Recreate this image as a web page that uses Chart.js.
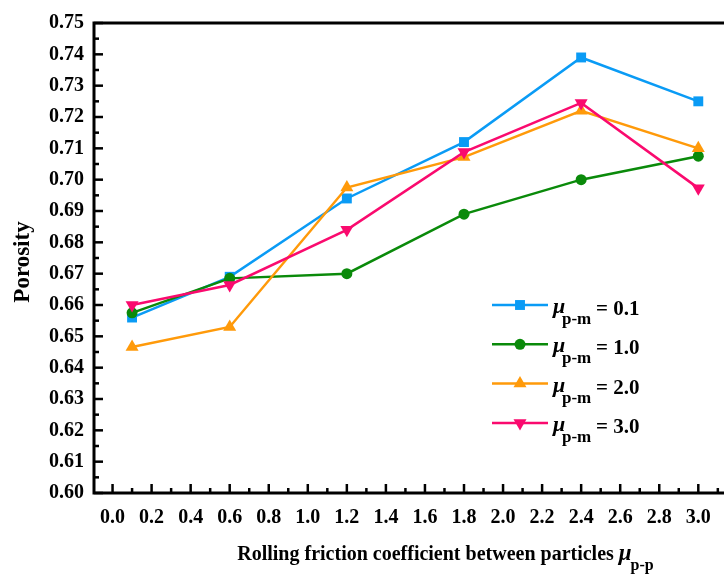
<!DOCTYPE html>
<html>
<head>
<meta charset="utf-8">
<script src="https://cdn.jsdelivr.net/npm/chart.js@4.4.1/dist/chart.umd.min.js"></script>
<style>
  html, body { margin: 0; padding: 0; background: #ffffff; }
  canvas { display: block; }
</style>
</head>
<body>
<canvas id="chart" width="724" height="577"></canvas>
<script>
// Rolling friction coefficient between particles (mu p-p)
const frictionPP = [0.1, 0.6, 1.2, 1.8, 2.4, 3.0];

// Porosity for each particle-wall friction coefficient (mu p-m)
const porosityPM01 = [0.656, 0.669, 0.694, 0.712, 0.739, 0.725];
const porosityPM10 = [0.6575, 0.6685, 0.670, 0.689, 0.700, 0.7075];
const porosityPM20 = [0.6466, 0.653, 0.6975, 0.7072, 0.722, 0.710];
const porosityPM30 = [0.660, 0.6664, 0.684, 0.7088, 0.7245, 0.6973];

// mu p-m values shown in the legend
const pmValues = ['0.1', '1.0', '2.0', '3.0'];

// Axis tick labels
const xTickLabels = ['0.0', '0.2', '0.4', '0.6', '0.8', '1.0', '1.2', '1.4', '1.6',
                     '1.8', '2.0', '2.2', '2.4', '2.6', '2.8', '3.0'];
const yTickLabels = ['0.60', '0.61', '0.62', '0.63', '0.64', '0.65', '0.66', '0.67',
                     '0.68', '0.69', '0.70', '0.71', '0.72', '0.73', '0.74', '0.75'];

const SERIF = '"Liberation Serif", "Times New Roman", serif';

function pairs(values) {
  return frictionPP.map((x, i) => ({ x: x, y: values[i] }));
}

function series(values, color, style, radius, rotation, order) {
  return {
    data: pairs(values),
    borderColor: color,
    backgroundColor: color,
    pointBackgroundColor: color,
    pointBorderColor: color,
    pointBorderWidth: 0,
    borderWidth: 2.5,
    pointStyle: style,
    pointRadius: radius,
    pointHoverRadius: radius,
    pointRotation: rotation,
    tension: 0,
    order: order
  };
}

// Frame, inward major/minor ticks, axis titles and legend
const decorPlugin = {
  id: 'decor',
  afterDatasetsDraw(chart) {
    const ctx = chart.ctx;
    const area = chart.chartArea;
    const xs = chart.scales.x;
    const ys = chart.scales.y;
    const W = chart.width;
    ctx.save();
    ctx.strokeStyle = '#000';
    ctx.lineCap = 'butt';

    // ticks on the x axis (major at labels, minor halfway)
    ctx.lineWidth = 2.5;
    xTickLabels.forEach((lab) => {
      const v = parseFloat(lab);
      const px = xs.getPixelForValue(v);
      ctx.beginPath();
      ctx.moveTo(px, area.bottom);
      ctx.lineTo(px, area.bottom - 9);
      ctx.stroke();
      const mx = xs.getPixelForValue(v + 0.1);
      ctx.beginPath();
      ctx.moveTo(mx, area.bottom);
      ctx.lineTo(mx, area.bottom - 5);
      ctx.stroke();
    });
    // ticks on the y axis
    yTickLabels.forEach((lab, i) => {
      const v = parseFloat(lab);
      const py = ys.getPixelForValue(v);
      ctx.beginPath();
      ctx.moveTo(area.left, py);
      ctx.lineTo(area.left + 9, py);
      ctx.stroke();
      if (i < yTickLabels.length - 1) {
        const my = ys.getPixelForValue(v + 0.005);
        ctx.beginPath();
        ctx.moveTo(area.left, my);
        ctx.lineTo(area.left + 5, my);
        ctx.stroke();
      }
    });

    // frame: left, bottom and top
    ctx.lineWidth = 3;
    ctx.beginPath();
    ctx.moveTo(W, area.top);
    ctx.lineTo(area.left, area.top);
    ctx.lineTo(area.left, area.bottom);
    ctx.lineTo(W, area.bottom);
    ctx.stroke();

    ctx.fillStyle = '#000';
    // y axis title
    ctx.save();
    ctx.translate(23, 262);
    ctx.rotate(-Math.PI / 2);
    ctx.font = 'bold 23px ' + SERIF;
    ctx.textAlign = 'center';
    ctx.textBaseline = 'middle';
    ctx.fillText('Porosity', 0, 0);
    ctx.restore();

    // x axis title with italic mu and subscript
    const main = 'Rolling friction coefficient between particles ';
    const fMain = 'bold 20px ' + SERIF;
    const fMu = 'italic bold 23px ' + SERIF;
    const fSub = 'bold 16px ' + SERIF;
    ctx.textAlign = 'left';
    ctx.textBaseline = 'alphabetic';
    ctx.font = fMain; const w1 = ctx.measureText(main).width;
    ctx.font = fMu; const w2 = ctx.measureText('\u03bc').width;
    ctx.font = fSub; const w3 = ctx.measureText('p-p').width;
    let tx = 446 - (w1 + w2 + w3) / 2;
    const base = 560;
    ctx.font = fMain; ctx.fillText(main, tx, base); tx += w1;
    ctx.font = fMu; ctx.fillText('\u03bc', tx, base); tx += w2 - 1;
    ctx.font = fSub; ctx.fillText('p-p', tx, base + 10);

    // legend
    const dsList = chart.data.datasets;
    dsList.forEach((ds, i) => {
      const ly = 305 + i * 39.3;
      ctx.strokeStyle = ds.borderColor;
      ctx.lineWidth = 2.5;
      ctx.beginPath();
      ctx.moveTo(492, ly);
      ctx.lineTo(548, ly);
      ctx.stroke();
      ctx.fillStyle = ds.backgroundColor;
      Chart.helpers.drawPoint(ctx, {
        pointStyle: ds.pointStyle,
        rotation: ds.pointRotation,
        radius: ds.pointRadius,
        borderWidth: 0
      }, 520, ly);
      ctx.fillStyle = '#000';
      ctx.font = 'italic bold 22px ' + SERIF;
      ctx.fillText('\u03bc', 553, ly + 8);
      ctx.font = 'bold 17px ' + SERIF;
      ctx.fillText('p-m', 562, ly + 19);
      ctx.font = 'bold 21px ' + SERIF;
      ctx.fillText('= ' + pmValues[i], 596, ly + 10);
    });
    ctx.restore();
  }
};

const chart = new Chart(document.getElementById('chart'), {
  type: 'line',
  data: {
    datasets: [
      series(porosityPM01, '#0A9BF5', 'rect', 7, 0, 4),
      series(porosityPM10, '#0A8A0A', 'circle', 5.5, 0, 3),
      series(porosityPM20, '#FF9A0A', 'triangle', 7.5, 0, 2),
      series(porosityPM30, '#FA0A6E', 'triangle', 7.5, 180, 1)
    ]
  },
  options: {
    responsive: false,
    animation: false,
    events: [],
    layout: { padding: { top: 23, right: 0, left: 0, bottom: 0 } },
    plugins: { legend: { display: false }, tooltip: { enabled: false } },
    scales: {
      x: {
        type: 'linear',
        min: -0.095,
        max: 3.085,
        grid: { display: false, drawTicks: false },
        border: { display: false },
        afterFit(scale) { scale.height = 84; },
        afterBuildTicks(scale) {
          scale.ticks = xTickLabels.map(l => ({ value: parseFloat(l) }));
        },
        ticks: {
          padding: 13,
          color: '#000',
          maxRotation: 0,
          autoSkip: false,
          font: { family: SERIF, size: 20, weight: 'bold' },
          callback: (v) => xTickLabels.find(l => parseFloat(l) === v) ?? ''
        }
      },
      y: {
        type: 'linear',
        min: 0.60,
        max: 0.75,
        grid: { display: false, drawTicks: false },
        border: { display: false },
        afterFit(scale) { scale.width = 94; },
        afterBuildTicks(scale) {
          scale.ticks = yTickLabels.map(l => ({ value: parseFloat(l) }));
        },
        ticks: {
          padding: 10,
          color: '#000',
          autoSkip: false,
          font: { family: SERIF, size: 20, weight: 'bold' },
          callback: (v) => yTickLabels.find(l => Math.abs(parseFloat(l) - v) < 1e-9) ?? ''
        }
      }
    }
  },
  plugins: [decorPlugin]
});
</script>
</body>
</html>
